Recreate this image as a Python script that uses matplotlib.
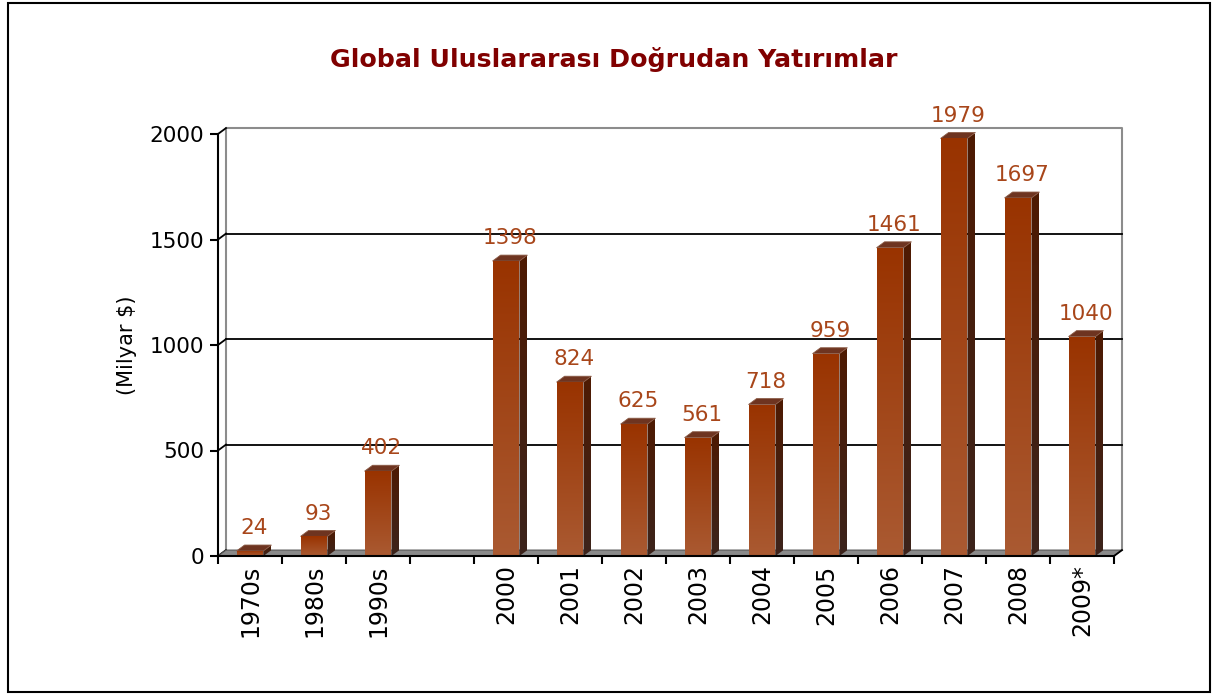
import numpy as np
import matplotlib.pyplot as plt
from matplotlib.patches import Polygon, Rectangle
from matplotlib.colors import LinearSegmentedColormap

categories = ["1970s", "1980s", "1990s", "", "2000", "2001", "2002", "2003",
              "2004", "2005", "2006", "2007", "2008", "2009*"]
values = [24, 93, 402, None, 1398, 824, 625, 561, 718, 959, 1461, 1979, 1697, 1040]
y_ticks = [0, 500, 1000, 1500, 2000]

title = "Global Uluslararası Doğrudan Yatırımlar"
y_label = "(Milyar $)"

W, H = 1218, 697
DPI = 100
BAR_W = 0.42
DX = 0.125      # depth in x (data units)
DY = 28         # depth in y (data units)

front_cmap = LinearSegmentedColormap.from_list("front", ["#993300", "#aa5a32"])
side_cmap = LinearSegmentedColormap.from_list("side", ["#4e1a02", "#3c241c"])


def gradient_patch(ax, poly_xy, cmap, zorder):
    poly = Polygon(poly_xy, closed=True, facecolor="none", edgecolor="none", zorder=zorder)
    ax.add_patch(poly)
    xs = [p[0] for p in poly_xy]
    ys = [p[1] for p in poly_xy]
    grad = np.linspace(0, 1, 256).reshape(-1, 1)
    im = ax.imshow(grad, cmap=cmap, aspect="auto", origin="upper",
                   extent=(min(xs), max(xs), min(ys), max(ys)), zorder=zorder)
    im.set_clip_path(poly)


def main() -> None:
    fig = plt.figure(figsize=(W / DPI, H / DPI), dpi=DPI)
    fig.patch.set_facecolor("white")

    # outer frame
    fig.patches.append(Rectangle((8 / W, 1 - 692 / H), 1202 / W, 689 / H,
                                 transform=fig.transFigure, fill=False,
                                 edgecolor="black", linewidth=1.5))

    left, right = 218 / W, 1114 / W
    bottom, top = 1 - 556 / H, 1 - 134 / H
    ax = fig.add_axes([left, bottom, right - left, top - bottom])
    ax.set_facecolor("none")

    n = len(categories)
    x0, x1 = -0.5, n - 0.5
    ymax = y_ticks[-1]

    # back wall
    ax.plot([x0 + DX, x0 + DX, x1 + DX, x1 + DX], [DY, ymax + DY, ymax + DY, DY],
            color="#8c8c8c", lw=1.5, clip_on=False, zorder=1)
    for t in y_ticks[1:-1]:
        ax.plot([x0 + DX, x1 + DX], [t + DY, t + DY], color="black", lw=1.3,
                clip_on=False, zorder=1)
    for t in y_ticks:
        ax.plot([x0, x0 + DX], [t, t + DY], color="black", lw=1.3,
                clip_on=False, zorder=2)

    # floor
    floor = Polygon([(x0, 0), (x1, 0), (x1 + DX, DY), (x0 + DX, DY)], closed=True,
                    facecolor="#8a8a8a", edgecolor="#555555", lw=0.8,
                    clip_on=False, zorder=2)
    ax.add_patch(floor)

    # bars
    for i, v in enumerate(values):
        if v is None:
            continue
        bl, br = i - BAR_W / 2, i + BAR_W / 2
        gradient_patch(ax, [(br, 0), (br + DX, DY), (br + DX, v + DY), (br, v)],
                       side_cmap, 3)
        ax.add_patch(Polygon([(bl, v), (bl + DX, v + DY), (br + DX, v + DY), (br, v)],
                             closed=True, facecolor="#6e3420", edgecolor="#8a5a45",
                             lw=0.6, clip_on=False, zorder=3))
        gradient_patch(ax, [(bl, 0), (br, 0), (br, v), (bl, v)], front_cmap, 4)
        ax.annotate(str(v), (i + DX / 2, v + DY), xytext=(0, 5),
                    textcoords="offset points", ha="center", va="bottom",
                    fontsize=15.5, color="#a8461a", zorder=5,
                    annotation_clip=False)

    ax.set_xlim(x0, x1)
    ax.set_ylim(0, ymax)

    for s in ["top", "right"]:
        ax.spines[s].set_visible(False)
    for s in ["left", "bottom"]:
        ax.spines[s].set_linewidth(1.5)
        ax.spines[s].set_zorder(6)
    ax.plot([x1, x1 + DX], [0, DY], color="black", lw=1.3, clip_on=False, zorder=6)

    ax.set_yticks(y_ticks)
    ax.set_yticklabels([str(t) for t in y_ticks])
    ax.tick_params(axis="y", direction="out", length=6, width=1.5, labelsize=15.5, pad=4)

    ax.set_xticks(range(n))
    ax.set_xticklabels(categories, rotation=90, fontsize=17)
    ax.set_xticks(np.arange(n + 1) - 0.5, minor=True)
    ax.tick_params(axis="x", which="major", length=0, pad=6)
    ax.tick_params(axis="x", which="minor", direction="out", length=6, width=1.5)

    fig.text(127 / W, 1 - 345 / H, y_label, rotation=90, ha="center", va="center",
             fontsize=15)
    fig.text(614 / W, 1 - 60 / H, title, ha="center", va="center",
             fontsize=18.2, fontweight="bold", color="#800000")

    fig.savefig("out.png", dpi=DPI)


if __name__ == "__main__":
    main()
